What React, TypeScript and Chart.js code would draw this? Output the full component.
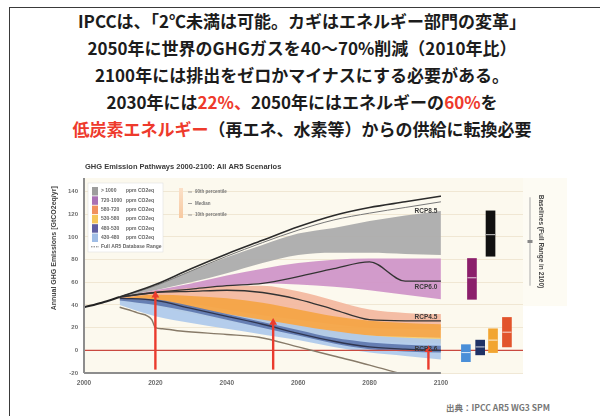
import React, { useEffect, useRef } from "react";
import { Chart, registerables } from "chart.js";
Chart.register(...registerables);

// ---------- header text ----------
const headerLines: [string, boolean][][] = [
  [["IPCCは、「2℃未満は可能。カギはエネルギー部門の変革」", false]],
  [["2050年に世界のGHGガスを40～70%削減（2010年比）", false]],
  [["2100年には排出をゼロかマイナスにする必要がある。", false]],
  [["2030年には", false], ["22%、", true], ["2050年にはエネルギーの", false], ["60%", true], ["を", false]],
  [["低炭素エネルギー", true], ["（再エネ、水素等）からの供給に転換必要", false]],
];
const sourceText = "出典：IPCC AR5 WG3 SPM";
const chartTitle = "GHG Emission Pathways 2000-2100: All AR5 Scenarios";
const yTitle = "Annual GHG Emissions [GtCO2eq/yr]";
const sideTitle = "Baselines (Full Range in 2100)";

// ---------- axes ----------
const xMin = 2000;
const xMax = 2123;
const yMin = -20;
const yMax = 152;
const xTickYears = [2000, 2020, 2040, 2060, 2080, 2100];

// ---------- data ----------
const historyYears = [2000, 2005, 2010];
const historyValues = [38, 42, 47];
const pathYears = [2010, 2020, 2030, 2040, 2050, 2060, 2070, 2080, 2090, 2100];
const rangeUpper = [47, 58, 72, 85, 97, 109, 119, 126, 131, 136];
const rangeUpperInner = [47, 57, 70, 83, 95, 106, 115, 121, 126, 131];
const lowerRangeYears = [2010, 2015, 2019, 2020, 2022, 2027, 2040, 2049, 2060, 2070, 2080, 2088];
const lowerRangeValues = [38, 33, 27, 20, 19, 17, 14, 11.5, 3, -5, -13, -20];

const grayHigh = [48, 57, 70, 82, 93, 103, 108, 114, 119, 123];
const grayLow = [47, 53, 60, 68, 77, 84, 86, 86, 85, 84];
const pinkHigh = [47, 53, 59, 66, 72, 77, 80, 81, 81, 81];
const pinkLow = [46, 49, 52, 56, 59, 58, 56, 53, 49, 45];
const peachHigh = [47, 52, 55, 57, 57, 52, 44, 36, 33, 32];
const peachLow = [45, 44, 41, 36, 31, 27, 23, 20, 19, 18];
const orangeHigh = [46, 49, 48, 46, 42, 36, 30, 26, 24, 23];
const orangeLow = [44, 40, 34, 28, 22, 17, 13, 10, 9, 8];
const yellowHigh = [45, 42, 36, 30, 25, 20, 16, 13, 12, 11];
const yellowLow = [44, 39, 32, 26, 20, 15, 11, 8, 7, 6];
const lightBlueHigh = [45, 43, 38, 32, 27, 22, 17, 13, 11, 10];
const lightBlueLow = [40, 30, 24, 19, 14, 9, 3, -2, -5, -8];
const navyHigh = [46, 45, 39, 32, 25, 18, 11, 7, 5, 4];
const navyLow = [44, 40, 34, 27, 20, 13, 6, 1, -1, -2];

const rcp60 = [47, 51, 54, 57, 59, 65, 72, 78, 61, 61];
const rcp45 = [47, 51, 52, 53, 51, 45, 36, 27, 26, 26];
const rcp26 = [46, 44, 37, 30, 23, 15, 8, 3, 1, 0];
const rcpNames = ["RCP8.5", "RCP6.0", "RCP4.5", "RCP2.6"];
const rcpLabelValues = [123, 56, 29, 1];
const rcpLabelYear = 2099;

const barYears = [2107, 2108.7, 2111, 2113.9, 2114.6, 2118.5];
const barLows = [-10, 45, -4, 83, -2, 3];
const barHighs = [5, 81, 9, 123, 19, 29];
const barMedians = [-2, 64, 3, 102, 9, 16];
const barColors = ["#4a8fd8", "#8b1f6b", "#1f3266", "#111111", "#f2a531", "#e2542c"];

const arrowYears = [2020, 2053, 2096.5];
const arrowTops = [48.5, 24.5, 0.5];
const arrowBase = -17;

const legendRanges = ["> 1000", "720-1000", "580-720", "530-580", "480-530", "430-480"];
const legendColors = ["#9d9d9d", "#a970b5", "#f0905e", "#f5c65a", "#5f5ea2", "#9fbde6"];
const legendLast = "Full AR5 Database Range";
const pctLabels = ["90th percentile", "Median", "10th percentile"];

// side scale (median marker) values
const sideScaleTop = 135;
const sideScaleBottom = 57;
const sideScaleMid = 96;
const sideBoxBottom = 39;

const pts = (xs: number[], ys: number[]) => xs.map((x, i) => ({ x, y: ys[i] }));

function buildDatasets() {
  const ds: any[] = [];
  const band = (high: number[], low: number[], color: string, order: number) => {
    const lowIndex = ds.length;
    ds.push({ type: "line", data: pts(pathYears, low), borderWidth: 0, pointRadius: 0, fill: false, order, cubicInterpolationMode: "monotone" });
    ds.push({ type: "line", data: pts(pathYears, high), borderWidth: 0, pointRadius: 0, backgroundColor: color, fill: { target: lowIndex }, order, cubicInterpolationMode: "monotone" });
  };
  band(grayHigh, grayLow, "rgba(172,172,172,0.95)", 30);
  band(pinkHigh, pinkLow, "rgba(208,150,200,0.95)", 29);
  band(peachHigh, peachLow, "rgba(243,185,160,0.95)", 28);
  band(orangeHigh, orangeLow, "rgba(244,164,70,0.95)", 27);
  band(yellowHigh, yellowLow, "rgba(247,212,125,0.9)", 26);
  band(lightBlueHigh, lightBlueLow, "rgba(176,202,235,0.95)", 25);
  band(navyHigh, navyLow, "rgba(92,117,173,0.9)", 24);

  const line = (xs: number[], ys: number[], color: string, width: number, order: number) =>
    ds.push({ type: "line", data: pts(xs, ys), borderColor: color, borderWidth: width, pointRadius: 0, fill: false, order, cubicInterpolationMode: "monotone" });

  ds.push({ type: "line", data: [{ x: xMin, y: 0 }, { x: xMax, y: 0 }], borderColor: "#c9493f", borderWidth: 1.2, pointRadius: 0, fill: false, order: 12 });
  line(lowerRangeYears, lowerRangeValues, "#877a68", 1.4, 10);
  line(pathYears, rangeUpperInner, "#777777", 1, 10);
  line(pathYears, rangeUpper, "#2b2b2b", 1.6, 9);
  line(pathYears, rcp60, "#333333", 1.3, 9);
  line(pathYears, rcp45, "#333333", 1.3, 9);
  line(pathYears, rcp26, "#2f3550", 1.3, 9);
  line(historyYears, historyValues, "#222222", 2, 8);

  ds.push({
    type: "bar",
    data: barYears.map((x, i) => ({ x, y: [barLows[i], barHighs[i]] })),
    backgroundColor: barColors,
    borderWidth: 0,
    barThickness: 9,
    order: 5,
  });
  ds.push({
    type: "line",
    data: pts(barYears, barMedians),
    showLine: false,
    pointStyle: "line",
    pointRadius: 4.5,
    pointBorderColor: "rgba(255,255,255,0.8)",
    pointBorderWidth: 1,
    order: 4,
  });
  arrowYears.forEach((yr, i) => {
    ds.push({
      type: "line",
      data: [{ x: yr, y: arrowBase }, { x: yr, y: arrowTops[i] }],
      borderColor: "#ea3b2e",
      borderWidth: 2.4,
      pointStyle: "triangle",
      pointRadius: [0, 4.5],
      pointBackgroundColor: "#ea3b2e",
      pointBorderColor: "#ea3b2e",
      pointBorderWidth: 0,
      fill: false,
      order: 2,
    });
  });
  return ds;
}

const decor = {
  id: "decor",
  beforeDraw(chart: any) {
    const { ctx, chartArea: a, scales } = chart;
    ctx.save();
    ctx.fillStyle = "#fcf9ee";
    ctx.fillRect(a.left, a.top, a.right - a.left, a.bottom - a.top);
    const yb = scales.y.getPixelForValue(sideBoxBottom);
    ctx.fillStyle = "#fdfbf3";
    ctx.fillRect(a.right, a.top, 44, yb - a.top);
    ctx.restore();
  },
  afterDatasetsDraw(chart: any) {
    const { ctx, chartArea: a, scales } = chart;
    const x = scales.x, y = scales.y;
    ctx.save();
    ctx.strokeStyle = "#8d8d8d";
    ctx.lineWidth = 2;
    ctx.beginPath();
    ctx.moveTo(a.left, a.top);
    ctx.lineTo(a.left, a.bottom);
    ctx.moveTo(a.left, a.bottom);
    ctx.lineTo(x.getPixelForValue(2100), a.bottom);
    ctx.stroke();

    ctx.font = "bold 6.5px 'Liberation Sans', Arial";
    ctx.fillStyle = "#3a3a3a";
    ctx.textAlign = "right";
    ctx.textBaseline = "middle";
    rcpNames.forEach((n, i) => ctx.fillText(n, x.getPixelForValue(rcpLabelYear), y.getPixelForValue(rcpLabelValues[i])));

    const lx = a.left + 4, ly = a.top + 5;
    ctx.fillStyle = "#ffffff";
    ctx.fillRect(lx, ly, 75, 69);
    ctx.strokeStyle = "#e0e0e0";
    ctx.lineWidth = 0.6;
    ctx.strokeRect(lx, ly, 75, 69);
    ctx.font = "bold 5px 'Liberation Sans', Arial";
    ctx.textAlign = "left";
    legendRanges.forEach((r, i) => {
      const cy = ly + 8 + i * 9.3;
      ctx.fillStyle = legendColors[i];
      ctx.fillRect(lx + 4, cy - 4, 6, 8.5);
      ctx.fillStyle = "#666";
      ctx.fillText(r, lx + 13, cy);
      ctx.fillText("ppm CO2eq", lx + 38, cy);
    });
    const cyl = ly + 8 + 6 * 9.3;
    ctx.strokeStyle = "#777";
    ctx.setLineDash([1.5, 1]);
    ctx.lineWidth = 1;
    ctx.beginPath();
    ctx.moveTo(lx + 3, cyl);
    ctx.lineTo(lx + 11, cyl);
    ctx.stroke();
    ctx.setLineDash([]);
    ctx.fillStyle = "#666";
    ctx.fillText(legendLast, lx + 13, cyl);

    const px = a.left + 95, py = a.top + 10;
    const g = ctx.createLinearGradient(0, py, 0, py + 30);
    g.addColorStop(0, "#fbe0c8");
    g.addColorStop(1, "#f7c9a0");
    ctx.fillStyle = g;
    ctx.fillRect(px, py, 4, 30);
    ctx.font = "bold 4.5px 'Liberation Sans', Arial";
    pctLabels.forEach((t, i) => {
      const cy = py + 4 + i * 11.5;
      ctx.strokeStyle = "#888";
      ctx.lineWidth = 0.8;
      ctx.beginPath();
      ctx.moveTo(px + 9, cy);
      ctx.lineTo(px + 13, cy);
      ctx.stroke();
      ctx.fillStyle = "#777";
      ctx.fillText(t, px + 16, cy);
    });

    const sx = a.right + 7;
    ctx.strokeStyle = "#aaaaaa";
    ctx.lineWidth = 1;
    ctx.beginPath();
    ctx.moveTo(sx, y.getPixelForValue(sideScaleTop));
    ctx.lineTo(sx, y.getPixelForValue(sideScaleBottom));
    ctx.stroke();
    ctx.fillStyle = "#888";
    ctx.fillRect(sx - 2.5, y.getPixelForValue(sideScaleMid) - 1.5, 5, 3);
    ctx.restore();
  },
  afterDraw(chart: any) {
    const { ctx, chartArea: a, scales } = chart;
    ctx.save();
    ctx.fillStyle = "#3a3a3a";
    ctx.font = "bold 7.5px 'Liberation Sans', Arial";
    ctx.textAlign = "left";
    ctx.textBaseline = "middle";
    ctx.fillText(chartTitle, a.left + 1, a.top - 11);

    ctx.font = "bold 7px 'Liberation Sans', Arial";
    ctx.fillStyle = "#444";
    ctx.textAlign = "center";
    ctx.translate(a.left - 30, scales.y.getPixelForValue(90));
    ctx.rotate(-Math.PI / 2);
    ctx.fillText(yTitle, 0, 0);
    ctx.restore();

    ctx.save();
    ctx.font = "bold 6.5px 'Liberation Sans', Arial";
    ctx.fillStyle = "#444";
    ctx.textAlign = "center";
    ctx.textBaseline = "middle";
    ctx.translate(a.right + 18, scales.y.getPixelForValue(96));
    ctx.rotate(Math.PI / 2);
    ctx.fillText(sideTitle, 0, 0);
    ctx.restore();
  },
};

export default function App() {
  const ref = useRef<HTMLCanvasElement>(null);
  useEffect(() => {
    if (!ref.current) return;
    Chart.defaults.font.family = "'Liberation Sans', Arial, sans-serif";
    const chart = new Chart(ref.current, {
      type: "line",
      data: { datasets: buildDatasets() },
      options: {
        responsive: false,
        animation: false,
        layout: { padding: { left: 44, right: 77, top: 28, bottom: 7 } },
        plugins: { legend: { display: false }, tooltip: { enabled: false }, title: { display: false } },
        elements: { line: { tension: 0 } },
        scales: {
          x: {
            type: "linear",
            min: xMin,
            max: xMax,
            offset: false,
            grid: { display: false, drawTicks: false },
            border: { display: false },
            ticks: {
              stepSize: 20,
              padding: 6,
              color: "#6b6b6b",
              font: { size: 6.5, weight: "bold" },
              callback: (v: any) => String(v),
            },
            afterBuildTicks: (s: any) => {
              s.ticks = xTickYears.map((v) => ({ value: v }));
            },
            afterFit: (s: any) => {
              s.height = 20;
            },
          },
          y: {
            type: "linear",
            min: yMin,
            max: yMax,
            grid: { color: "#ece2cb", lineWidth: 0.8, drawTicks: false },
            border: { display: false },
            ticks: { stepSize: 20, padding: 6, color: "#6b6b6b", font: { size: 6, weight: "bold" }, callback: (v: any) => String(v) },
            afterBuildTicks: (s: any) => {
              s.ticks = s.ticks.filter((t: any) => t.value % 20 === 0);
            },
            afterFit: (s: any) => {
              s.width = 40;
            },
          },
        },
      } as any,
      plugins: [decor],
    });
    return () => chart.destroy();
  }, []);

  return (
    <div style={{ position: "absolute", left: 0, top: 0, width: 600, height: 416, overflow: "hidden", background: "#fff" }}>
      <div style={{ position: "absolute", left: 9, top: 7, width: 700, height: 600, border: "1.5px solid #3a3a3a" }} />
      <div
        style={{
          position: "absolute",
          left: 0,
          top: 7,
          width: 604,
          textAlign: "center",
          fontFamily: "'Noto Sans CJK JP', sans-serif",
          fontWeight: 700,
          fontSize: 17,
          lineHeight: "27px",
          color: "#1c1c1c",
          whiteSpace: "nowrap",
        }}
      >
        {headerLines.map((line, i) => (
          <div key={i}>
            {line.map(([t, red], j) => (
              <span key={j} style={{ color: red ? "#ee3a2c" : undefined }}>
                {t}
              </span>
            ))}
          </div>
        ))}
      </div>
      <div style={{ position: "absolute", left: 0, top: 150, width: 600, height: 250 }}>
        <canvas ref={ref} width={600} height={250} />
      </div>
      <div
        style={{
          position: "absolute",
          left: 446,
          top: 401,
          fontFamily: "'Noto Sans CJK JP', sans-serif",
          fontWeight: 700,
          fontSize: 8.5,
          color: "#777",
          whiteSpace: "nowrap",
        }}
      >
        {sourceText}
      </div>
    </div>
  );
}
